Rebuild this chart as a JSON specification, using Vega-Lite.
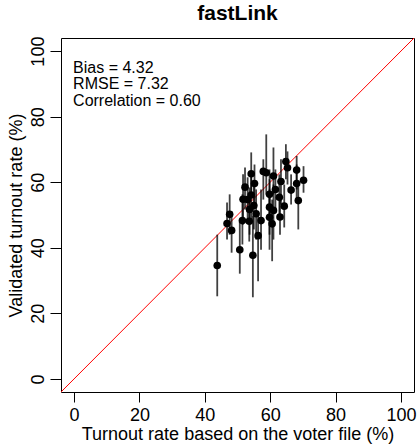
{
  "$schema": "https://vega.github.io/schema/vega-lite/v6.json",
  "autosize": "none",
  "padding": {"left": 61, "top": 38, "right": 4, "bottom": 55},
  "width": 353,
  "height": 354,
  "title": {"text": "fastLink", "fontSize": 21, "fontWeight": "bold", "font": "Liberation Sans", "color": "black", "anchor": "middle", "offset": 12},
  "config": {
    "view": {"stroke": "black", "strokeWidth": 1},
    "font": "Liberation Sans",
    "axis": {"grid": false, "domain": false, "tickColor": "black", "labelFontSize": 18, "labelColor": "black", "titleFontSize": 18, "titleFontWeight": "normal", "titleColor": "black", "labelFont": "Liberation Sans", "titleFont": "Liberation Sans"}
  },
  "datasets": {
    "pts": [
      {"x": 43.8, "y": 34.6, "lo": 25.2, "hi": 44.0},
      {"x": 50.7, "y": 39.4, "lo": 32.1, "hi": 48.0},
      {"x": 54.7, "y": 37.7, "lo": 24.9, "hi": 49.8},
      {"x": 56.3, "y": 43.7, "lo": 29.8, "hi": 51.2},
      {"x": 47.6, "y": 50.2, "lo": 44.0, "hi": 56.3},
      {"x": 46.8, "y": 47.4, "lo": 42.5, "hi": 53.8},
      {"x": 48.2, "y": 45.3, "lo": 38.5, "hi": 51.1},
      {"x": 51.5, "y": 48.3, "lo": 41.0, "hi": 56.3},
      {"x": 53.6, "y": 48.1, "lo": 41.9, "hi": 54.7},
      {"x": 57.2, "y": 48.3, "lo": 39.4, "hi": 57.8},
      {"x": 51.7, "y": 54.8, "lo": 47.1, "hi": 62.4},
      {"x": 52.3, "y": 58.5, "lo": 51.7, "hi": 64.5},
      {"x": 54.2, "y": 62.6, "lo": 55.7, "hi": 69.1},
      {"x": 55.2, "y": 59.6, "lo": 53.2, "hi": 65.4},
      {"x": 54.2, "y": 56.1, "lo": 48.6, "hi": 62.4},
      {"x": 53.1, "y": 54.7, "lo": 48.0, "hi": 61.5},
      {"x": 55.0, "y": 52.9, "lo": 45.6, "hi": 60.2},
      {"x": 53.7, "y": 51.7, "lo": 44.0, "hi": 58.4},
      {"x": 55.7, "y": 50.4, "lo": 42.5, "hi": 57.8},
      {"x": 58.8, "y": 62.9, "lo": 56.3, "hi": 74.6},
      {"x": 57.9, "y": 63.3, "lo": 54.7, "hi": 67.0},
      {"x": 59.8, "y": 56.3, "lo": 48.6, "hi": 63.9},
      {"x": 59.8, "y": 52.4, "lo": 44.0, "hi": 60.9},
      {"x": 59.8, "y": 49.3, "lo": 39.4, "hi": 57.8},
      {"x": 60.6, "y": 47.3, "lo": 35.9, "hi": 54.7},
      {"x": 61.0, "y": 51.4, "lo": 42.5, "hi": 59.3},
      {"x": 61.0, "y": 61.9, "lo": 56.3, "hi": 70.6},
      {"x": 61.6, "y": 57.8, "lo": 51.7, "hi": 63.9},
      {"x": 63.3, "y": 60.2, "lo": 53.2, "hi": 67.0},
      {"x": 62.8, "y": 55.4, "lo": 48.6, "hi": 62.4},
      {"x": 64.3, "y": 52.7, "lo": 46.2, "hi": 59.3},
      {"x": 63.0, "y": 49.4, "lo": 44.0, "hi": 54.7},
      {"x": 64.8, "y": 66.3, "lo": 60.9, "hi": 71.6},
      {"x": 65.3, "y": 64.4, "lo": 59.3, "hi": 69.4},
      {"x": 66.4, "y": 57.6, "lo": 53.2, "hi": 62.4},
      {"x": 68.1, "y": 63.7, "lo": 57.8, "hi": 68.0},
      {"x": 68.1, "y": 59.6, "lo": 54.7, "hi": 65.4},
      {"x": 70.2, "y": 60.6, "lo": 56.8, "hi": 64.9},
      {"x": 68.6, "y": 54.4, "lo": 45.6, "hi": 59.3}
    ],
    "diag": [{"x": -4, "y": -4, "x2": 104, "y2": 104}],
    "notes": [
      {"x": -0.3, "y": 95.0, "label": "Bias = 4.32"},
      {"x": -0.3, "y": 89.9, "label": "RMSE = 7.32"},
      {"x": -0.3, "y": 84.8, "label": "Correlation = 0.60"}
    ]
  },
  "layer": [
    {
      "data": {"name": "diag"},
      "mark": {"type": "rule", "color": "#FF0000", "strokeWidth": 1, "clip": true},
      "encoding": {
        "x": {"field": "x", "type": "quantitative", "scale": {"domain": [-4, 104], "nice": false, "zero": false},
              "axis": {"values": [0, 20, 40, 60, 80, 100], "title": "Turnout rate based on the voter file (%)", "tickSize": 10, "labelPadding": 4, "titlePadding": 1}},
        "y": {"field": "y", "type": "quantitative", "scale": {"domain": [-4, 104], "nice": false, "zero": false},
              "axis": {"values": [0, 20, 40, 60, 80, 100], "title": "Validated turnout rate (%)", "tickSize": 11, "labelAngle": -90, "labelAlign": "center", "labelBaseline": "bottom", "labelPadding": 3, "titlePadding": 4}},
        "x2": {"field": "x2"},
        "y2": {"field": "y2"}
      }
    },
    {
      "data": {"name": "pts"},
      "mark": {"type": "rule", "color": "#000000", "opacity": 0.75, "strokeWidth": 1.8},
      "encoding": {
        "x": {"field": "x", "type": "quantitative"},
        "y": {"field": "lo", "type": "quantitative"},
        "y2": {"field": "hi"}
      }
    },
    {
      "data": {"name": "pts"},
      "mark": {"type": "circle", "color": "black", "opacity": 1, "size": 58},
      "encoding": {
        "x": {"field": "x", "type": "quantitative"},
        "y": {"field": "y", "type": "quantitative"}
      }
    },
    {
      "data": {"name": "notes"},
      "mark": {"type": "text", "align": "left", "baseline": "middle", "fontSize": 16, "font": "Liberation Sans", "color": "black"},
      "encoding": {
        "x": {"field": "x", "type": "quantitative"},
        "y": {"field": "y", "type": "quantitative"},
        "text": {"field": "label"}
      }
    }
  ]
}
